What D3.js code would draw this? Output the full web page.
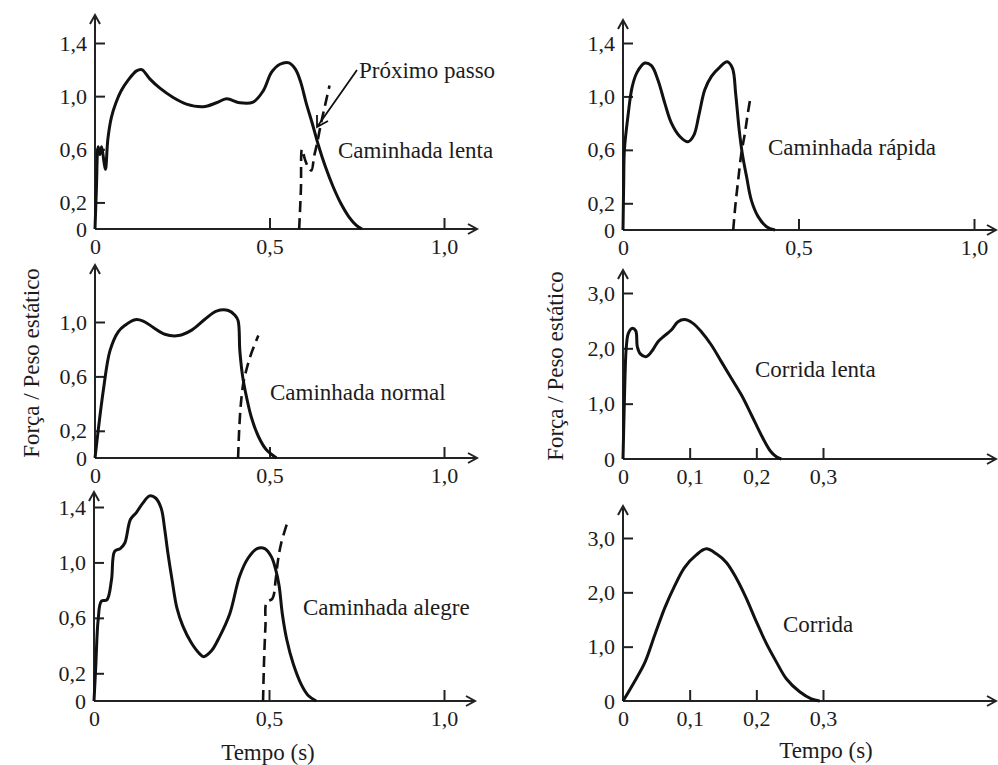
<!DOCTYPE html>
<html>
<head>
<meta charset="utf-8">
<script src="https://cdn.jsdelivr.net/npm/d3@7"></script>
<style>
  body { margin: 0; background: #fff; }
  svg text { font-family: "Liberation Serif", "Times New Roman", serif; fill: #1c1c1c; }
</style>
</head>
<body>
<svg id="chart" width="998" height="765"></svg>
<script>
// ---- data: [tempo (s), força / peso estático] ----
const caminhadaLenta = [[0,0],[0.004,0.3],[0.009,0.62],[0.014,0.56],[0.019,0.62],[0.026,0.5],[0.03,0.45],[0.037,0.68],
  [0.047,0.84],[0.06,0.95],[0.075,1.04],[0.095,1.12],[0.119,1.19],[0.134,1.2],[0.157,1.13],[0.186,1.06],[0.224,0.99],
  [0.262,0.94],[0.31,0.92],[0.348,0.95],[0.377,0.98],[0.415,0.95],[0.453,0.955],[0.482,1.04],[0.506,1.18],[0.53,1.24],
  [0.556,1.25],[0.575,1.2],[0.59,1.1],[0.605,0.95],[0.622,0.8],[0.639,0.64],[0.66,0.47],[0.682,0.32],[0.705,0.19],
  [0.728,0.09],[0.748,0.03],[0.765,0]]
const proximoLenta = [[0.585,0],[0.59,0.3],[0.593,0.6],[0.602,0.52],[0.612,0.46],[0.62,0.44],[0.628,0.55],
  [0.636,0.64],[0.648,0.8],[0.66,0.94],[0.672,1.08]]

const caminhadaRapida = [[0,0],[0.002,0.35],[0.004,0.6],[0.014,0.85],[0.026,1.07],[0.04,1.18],[0.062,1.25],[0.081,1.23],
  [0.1,1.12],[0.119,0.95],[0.138,0.8],[0.162,0.7],[0.185,0.66],[0.202,0.71],[0.217,0.87],[0.233,1.05],[0.252,1.15],
  [0.276,1.22],[0.297,1.26],[0.312,1.21],[0.321,1.02],[0.331,0.75],[0.34,0.57],[0.352,0.4],[0.366,0.22],[0.385,0.1],
  [0.409,0.025],[0.433,0]]
const proximoRapida = [[0.314,0],[0.32,0.18],[0.328,0.37],[0.337,0.57],[0.347,0.72],[0.356,0.88],[0.363,0.99]]

const caminhadaNormal = [[0,0],[0.0095,0.21],[0.024,0.5],[0.043,0.79],[0.067,0.93],[0.086,0.976],[0.115,1.017],
  [0.138,1.007],[0.167,0.96],[0.2,0.91],[0.239,0.9],[0.277,0.94],[0.315,1.02],[0.348,1.08],[0.382,1.085],[0.401,1.05],
  [0.41,1.01],[0.415,0.79],[0.423,0.6],[0.434,0.45],[0.448,0.3],[0.468,0.16],[0.491,0.06],[0.52,0]]
const proximoNormal = [[0.41,0],[0.413,0.2],[0.418,0.4],[0.425,0.55],[0.435,0.66],[0.448,0.77],[0.468,0.9]]

const corridaLenta = [[0,0],[0.0015,0.77],[0.003,1.49],[0.005,2.03],[0.008,2.27],[0.0135,2.36],[0.019,2.32],
  [0.0215,2.03],[0.026,1.9],[0.035,1.85],[0.044,1.96],[0.0525,2.12],[0.0625,2.23],[0.0725,2.33],[0.0825,2.48],
  [0.0925,2.52],[0.104,2.46],[0.1175,2.3],[0.1325,2.06],[0.1475,1.76],[0.1625,1.46],[0.1775,1.16],[0.1925,0.8],
  [0.2075,0.43],[0.221,0.145],[0.23,0.04],[0.2375,0]]

const caminhadaAlegre = [[0,0],[0.005,0.25],[0.012,0.59],[0.021,0.72],[0.037,0.73],[0.05,0.875],[0.059,1.08],
  [0.075,1.1],[0.088,1.14],[0.104,1.31],[0.121,1.36],[0.14,1.43],[0.159,1.48],[0.176,1.465],[0.192,1.39],[0.202,1.24],
  [0.211,1.07],[0.223,0.875],[0.237,0.67],[0.254,0.54],[0.278,0.42],[0.302,0.34],[0.313,0.32],[0.335,0.36],
  [0.359,0.465],[0.388,0.63],[0.416,0.9],[0.44,1.03],[0.466,1.1],[0.488,1.1],[0.507,1.04],[0.519,0.95],[0.529,0.83],
  [0.538,0.63],[0.551,0.44],[0.569,0.27],[0.592,0.12],[0.612,0.04],[0.635,0]]
const proximoAlegre = [[0.483,0],[0.486,0.3],[0.49,0.55],[0.493,0.71],[0.51,0.74],[0.519,0.875],[0.526,1.02],
  [0.535,1.14],[0.554,1.3]]

const corrida = [[0,0],[0.015,0.31],[0.0325,0.7],[0.0475,1.21],[0.0625,1.71],[0.0775,2.12],[0.0925,2.46],[0.11,2.69],
  [0.125,2.8],[0.14,2.71],[0.155,2.55],[0.17,2.26],[0.185,1.89],[0.2,1.46],[0.215,1.06],[0.23,0.72],[0.245,0.41],
  [0.265,0.17],[0.2825,0.04],[0.295,0]]

// ticks
const xTicksLongo = [0, 0.5, 1.0]
const xTicksCurto = [0, 0.1, 0.2, 0.3]
const yTicks14 = [0, 0.2, 0.6, 1.0, 1.4]
const yTicks10 = [0, 0.2, 0.6, 1.0]
const yTicks30 = [0, 1.0, 2.0, 3.0]

const yTitle = "Força / Peso estático"
const xTitle = "Tempo (s)"

// ---- panels ----
const panels = [
  { name: "Caminhada lenta", solid: caminhadaLenta, dashed: proximoLenta, xd: 1.0, x: [95, 444], yd: 1.4, y: [229, 43],
    top: 15, end: 477, xt: xTicksLongo, yt: yTicks14, label: [338, 158] },
  { name: "Caminhada rápida", solid: caminhadaRapida, dashed: proximoRapida, xd: 1.0, x: [623, 974], yd: 1.4, y: [230, 43],
    top: 20, end: 996, xt: xTicksLongo, yt: yTicks14, label: [768, 155] },
  { name: "Caminhada normal", solid: caminhadaNormal, dashed: proximoNormal, xd: 1.0, x: [95, 444], yd: 1.0, y: [458, 322],
    top: 265, end: 477, xt: xTicksLongo, yt: yTicks10, label: [270, 400] },
  { name: "Corrida lenta", solid: corridaLenta, dashed: null, xd: 0.3, x: [623, 823], yd: 3.0, y: [459, 293],
    top: 270, end: 996, xt: xTicksCurto, yt: yTicks30, label: [755, 377] },
  { name: "Caminhada alegre", solid: caminhadaAlegre, dashed: proximoAlegre, xd: 1.0, x: [94, 444], yd: 1.4, y: [701, 507],
    top: 492, end: 475, xt: xTicksLongo, yt: yTicks14, label: [303, 615] },
  { name: "Corrida", solid: corrida, dashed: null, xd: 0.3, x: [623, 823], yd: 3.0, y: [701, 538],
    top: 506, end: 996, xt: xTicksCurto, yt: yTicks30, label: [783, 632] }
]

const svg = d3.select("#chart")
const fmt = v => v === 0 ? "0" : d3.format(".1f")(v).replace(".", ",")

panels.forEach(p => {
  const x = d3.scaleLinear().domain([0, p.xd]).range(p.x)
  const y = d3.scaleLinear().domain([0, p.yd]).range(p.y)
  const g = svg.append("g")
  const x0 = x(0), y0 = y(0)

  // y ticks (inward) + labels
  const ya = g.append("g")
      .attr("transform", `translate(${x0},0)`)
      .call(d3.axisLeft(y).tickValues(p.yt).tickSizeInner(-10).tickSizeOuter(0).tickPadding(8).tickFormat(fmt))
  ya.select(".domain").remove()
  ya.selectAll(".tick text").attr("font-size", 22).attr("font-family", null)
  ya.selectAll(".tick").filter(d => d === 0).select("line").remove()
  ya.selectAll(".tick line").attr("stroke", "#222").attr("stroke-width", 2)

  // x ticks (upward) + labels
  const xa = g.append("g")
      .attr("transform", `translate(0,${y0})`)
      .call(d3.axisBottom(x).tickValues(p.xt).tickSizeInner(-11).tickSizeOuter(0).tickPadding(9).tickFormat(fmt))
  xa.select(".domain").remove()
  xa.selectAll(".tick text").attr("font-size", 22).attr("font-family", null)
  xa.selectAll(".tick").filter(d => d === 0).select("line").remove()
  xa.selectAll(".tick line").attr("stroke", "#222").attr("stroke-width", 2)

  // axis lines with open arrowheads
  g.append("path")
      .attr("d", `M${x0},${y0}V${p.top} M${x0 - 5},${p.top + 9}L${x0},${p.top}L${x0 + 5},${p.top + 9}`)
      .attr("fill", "none").attr("stroke", "#222").attr("stroke-width", 2)
  g.append("path")
      .attr("d", `M${x0},${y0}H${p.end} M${p.end - 9},${y0 - 5}L${p.end},${y0}L${p.end - 9},${y0 + 5}`)
      .attr("fill", "none").attr("stroke", "#222").attr("stroke-width", 2)

  const line = d3.line()
      .x(d => x(d[0]))
      .y(d => y(d[1]))
      .curve(d3.curveCatmullRom.alpha(0.5))

  if (p.dashed) {
    g.append("path")
        .attr("d", line(p.dashed))
        .attr("fill", "none").attr("stroke", "#111").attr("stroke-width", 2.6)
        .attr("stroke-dasharray", "11,6")
  }
  g.append("path")
      .attr("d", line(p.solid))
      .attr("fill", "none").attr("stroke", "#111").attr("stroke-width", 3)
      .attr("stroke-linejoin", "round")

  g.append("text")
      .attr("x", p.label[0]).attr("y", p.label[1])
      .attr("font-size", 23)
      .text(p.name)
})

// "Próximo passo" pointer
svg.append("text").attr("x", 359).attr("y", 78).attr("font-size", 23).text("Próximo passo")
svg.append("path")
    .attr("d", "M357,70L317,127 M317,115L317,127L328,121")
    .attr("fill", "none").attr("stroke", "#111").attr("stroke-width", 1.8)

// axis titles
svg.append("text")
    .attr("transform", "translate(39,363) rotate(-90)")
    .attr("text-anchor", "middle").attr("font-size", 23)
    .text(yTitle)
svg.append("text")
    .attr("transform", "translate(563,366) rotate(-90)")
    .attr("text-anchor", "middle").attr("font-size", 23)
    .text(yTitle)
svg.append("text")
    .attr("x", 268).attr("y", 760).attr("text-anchor", "middle").attr("font-size", 23)
    .text(xTitle)
svg.append("text")
    .attr("x", 826).attr("y", 758).attr("text-anchor", "middle").attr("font-size", 23)
    .text(xTitle)
</script>
</body>
</html>
